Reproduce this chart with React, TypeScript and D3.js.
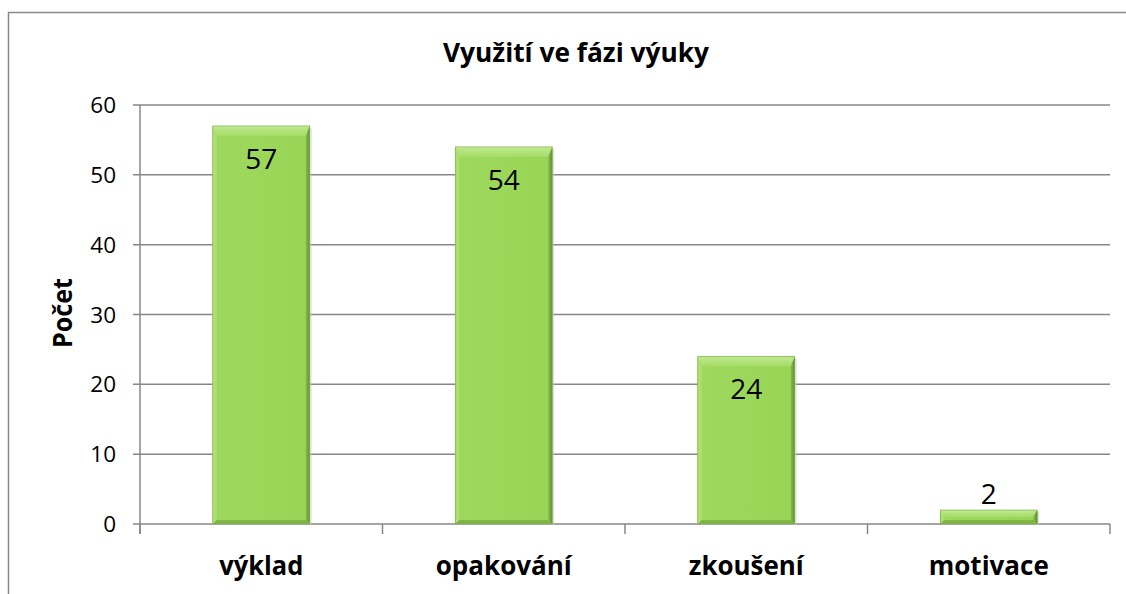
import React from "react";
import * as d3 from "d3";

const categories = ["výklad", "opakování", "zkoušení", "motivace"];
const values = [57, 54, 24, 2];
const yTicks = [0, 10, 20, 30, 40, 50, 60];
const title = "Využití ve fázi výuky";
const yTitle = "Počet";

const W = 1126;
const H = 594;
const FONT = "'Open Sans', Lato, sans-serif";

export default function App() {
  const x = d3
    .scaleBand<string>()
    .domain(categories)
    .range([140, 1110])
    .paddingInner(0.6)
    .paddingOuter(0.3);
  const y = d3.scaleLinear().domain([0, 60]).range([524, 105]);
  const step = x.step();
  const boundaries = d3.range(categories.length + 1).map((i) => 140 + i * step);
  const catLen = [84, 136, 115, 120];

  return (
    <svg
      width={W}
      height={H}
      style={{ position: "absolute", left: 0, top: 0, background: "#fff" }}
    >
      <defs>
        <linearGradient id="topBevel" x1="0" y1="0" x2="0" y2="1">
          <stop offset="0" stopColor="#c0ea90" />
          <stop offset="1" stopColor="#a5dc68" />
        </linearGradient>
        <linearGradient id="rightBevel" x1="0" y1="0" x2="1" y2="0">
          <stop offset="0" stopColor="#86bd4c" />
          <stop offset="1" stopColor="#5f9232" />
        </linearGradient>
        <linearGradient id="body" x1="0" y1="0" x2="1" y2="0">
          <stop offset="0" stopColor="#9ed95d" />
          <stop offset="1" stopColor="#98d556" />
        </linearGradient>
      </defs>
      {/* outer border */}
      <rect x={8.5} y={12.5} width={1200} height={700} fill="#fff" stroke="#8a8a8a" strokeWidth={1.5} />

      {/* title */}
      <text
        x={576}
        y={62}
        textAnchor="middle"
        fontFamily={FONT}
        fontWeight="bold"
        fontSize={27.5}
        textLength={266}
        lengthAdjust="spacingAndGlyphs"
        fill="#000"
      >
        {title}
      </text>

      {/* gridlines + ticks */}
      {yTicks.map((t) => (
        <g key={t}>
          <line x1={133} x2={1110} y1={y(t)} y2={y(t)} stroke="#878787" strokeWidth={1.5} />
          <text
            x={116}
            y={y(t) + 8}
            textAnchor="end"
            fontFamily={FONT}
            fontSize={22.5}
            fill="#000"
          >
            {t}
          </text>
        </g>
      ))}
      {/* y axis */}
      <line x1={140} x2={140} y1={105} y2={534} stroke="#878787" strokeWidth={1.5} />
      {/* x axis ticks */}
      {boundaries.map((b, i) => (
        <line key={i} x1={b} x2={b} y1={524} y2={534} stroke="#878787" strokeWidth={1.5} />
      ))}

      {/* bars */}
      {categories.map((c, i) => {
        const v = values[i];
        const x0 = x(c)!;
        const x1 = x0 + x.bandwidth();
        const y0 = y(v);
        const y1 = y(0);
        const h = y1 - y0;
        const bt = Math.min(10, h * 0.5);
        const bs = 4;
        const bb = Math.min(4, h * 0.3);
        const pts = (arr: number[][]) => arr.map((p) => p.join(",")).join(" ");
        const label = String(v);
        return (
          <g key={c}>
            <rect x={x0 + 2} y={y0 + 2} width={x1 - x0} height={h - 1} fill="#c8c8c8" opacity={0.5} />
            <rect x={x0} y={y0} width={x1 - x0} height={h} fill="url(#body)" />
            <polygon
              points={pts([[x0, y0], [x1, y0], [x1 - bs, y0 + bt], [x0 + bs, y0 + bt]])}
              fill="url(#topBevel)"
            />
            <polygon
              points={pts([[x0, y0], [x0 + bs, y0 + bt], [x0 + bs, y1 - bb], [x0, y1]])}
              fill="#abe070"
            />
            <polygon
              points={pts([[x1, y0], [x1, y1], [x1 - bs, y1 - bb], [x1 - bs, y0 + bt]])}
              fill="url(#rightBevel)"
            />
            <polygon
              points={pts([[x0, y1], [x0 + bs, y1 - bb], [x1 - bs, y1 - bb], [x1, y1]])}
              fill="#7fb446"
            />
            <rect x={x0} y={y0} width={x1 - x0} height={h} fill="none" stroke="#7aa845" strokeWidth={0.6} />
            <text
              x={x0 + x.bandwidth() / 2}
              y={h > 50 ? y0 + 43 : y0 - 6}
              textAnchor="middle"
              fontFamily={FONT}
              fontSize={28}
              fill="#000"
            >
              {label}
            </text>
          </g>
        );
      })}

      {/* category labels */}
      {categories.map((c, i) => (
        <text
          key={c}
          x={x(c)! + x.bandwidth() / 2}
          y={575}
          textAnchor="middle"
          fontFamily={FONT}
          fontWeight="bold"
          fontSize={27.5}
          textLength={catLen[i]}
          lengthAdjust="spacingAndGlyphs"
          fill="#000"
        >
          {c}
        </text>
      ))}

      {/* y title */}
      <text
        transform="translate(72,313) rotate(-90)"
        textAnchor="middle"
        fontFamily={FONT}
        fontWeight="bold"
        fontSize={27}
        textLength={70}
        lengthAdjust="spacingAndGlyphs"
        fill="#000"
      >
        {yTitle}
      </text>
    </svg>
  );
}
